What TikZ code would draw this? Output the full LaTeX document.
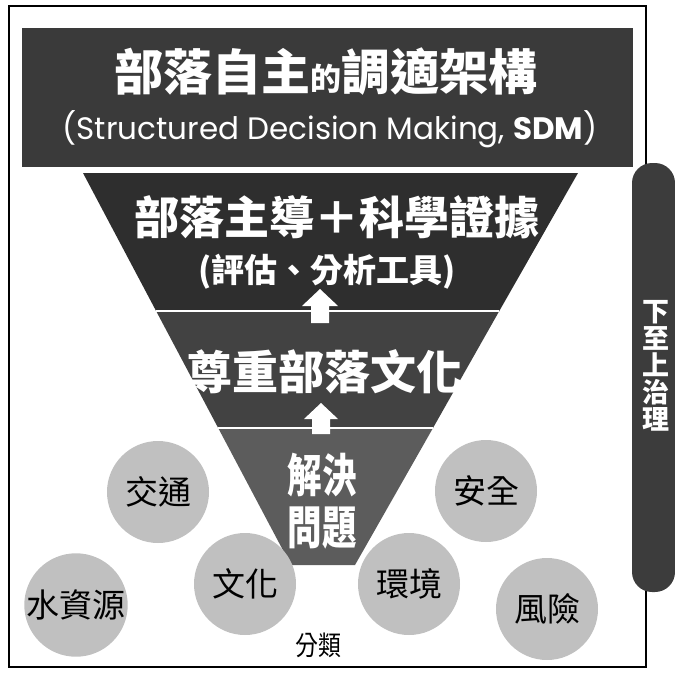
\documentclass[tikz,border=0pt]{standalone}
\usepackage{fontspec}
\usepackage{graphicx}
\newfontfamily\cjk{Noto Sans CJK TC}
\newfontfamily\poppins{Poppins}
\definecolor{bannergray}{HTML}{3A3A3A}
\definecolor{sectA}{HTML}{2E2E2E}
\definecolor{sectB}{HTML}{424242}
\definecolor{sectC}{HTML}{5C5C5C}
\definecolor{circgray}{HTML}{C0C0C0}
\definecolor{pillgray}{HTML}{3C3C3C}
\tikzset{
  wtxt/.style={text=white, inner sep=0pt},
  circ/.style={circle, fill=circgray, minimum size=102pt, inner sep=0pt, text=black,
    font=\cjk\fontsize{33}{33}\selectfont},
  uparrowfill/.style={fill=white},
  sepline/.style={white, line width=1.5pt},
  pill/.style={rectangle, rounded corners=20pt, fill=pillgray, minimum width=43pt,
    minimum height=429pt, inner sep=0pt},
  pilltxt/.style={text=white, align=center, inner sep=0pt,
    font=\cjk\bfseries\fontsize{27}{27}\selectfont}
}
\begin{document}
\begin{tikzpicture}[x=1pt,y=-1pt]
\useasboundingbox (0,0) rectangle (675,678);
% frame
\draw[line width=1.2pt] (9,6) rectangle (646,667);
% banner
\fill[bannergray] (22,28) rectangle (633,167);
\node[wtxt, font=\cjk\bfseries\fontsize{49}{49}\selectfont] (title) at (326,72)
  {部落自主{\fontsize{31}{31}\selectfont 的}調適架構};
\node[wtxt, font=\poppins\fontsize{31}{31}\selectfont] (sdm) at (330,129)
  {(Structured Decision Making, {\bfseries SDM})};
% funnel
\fill[sectA] (83,173) -- (578,173) -- (499.3,311) -- (156.1,311) -- cycle;
\fill[sectB] (156.1,311) -- (499.3,311) -- (433,428) -- (218.2,428) -- cycle;
\fill[sectC] (218.2,428) -- (433,428) -- (355,565) -- (290.8,565) -- cycle;
\draw[sepline] (156.1,311) -- (499.3,311);
\draw[sepline] (218.2,428) -- (433,428);
\node[wtxt, font=\cjk\bfseries\fontsize{45}{45}\selectfont] (s1) at (337,217) {部落主導＋科學證據};
\node[wtxt, font=\cjk\bfseries\fontsize{33}{33}\selectfont] (s1b) at (327,272) {(評估、分析工具)};
% block arrows
\coordinate (a1) at (320,306);
\fill[uparrowfill] (320,289) -- (338,306) -- (329,306) -- (329,323) -- (311,323) -- (311,306) -- (302,306) -- cycle;
\node[wtxt, font=\cjk\bfseries\fontsize{46}{46}\selectfont] (s2) at (324,372) {尊重部落文化};
\coordinate (a2) at (321,418);
\fill[uparrowfill] (321,403) -- (338,419) -- (330,419) -- (330,434) -- (312,434) -- (312,419) -- (304,419) -- cycle;
\node[wtxt, font=\cjk\bfseries\fontsize{46}{46}\selectfont] (s3a) at (322,475) {\scalebox{0.75}[1]{解決}};
\node[wtxt, font=\cjk\bfseries\fontsize{46}{46}\selectfont] (s3b) at (322,528) {\scalebox{0.75}[1]{問題}};
% circles
\node[circ] (jt) at (158,492) {交通};
\node[circ] (aq) at (486,491) {安全};
\node[circ] (szy) at (76,605) {水資源};
\node[circ] (wh) at (245,584) {文化};
\node[circ] (hj) at (409,584) {環境};
\node[circ] (fx) at (547,609) {風險};
\node[inner sep=0pt, font=\cjk\fontsize{27}{27}\selectfont] (fl) at (318,645) {\scalebox{0.85}[1]{分類}};
% side pill
\node[pill] (gov) at (653.5,377.5) {};
\node[pilltxt] (govt) at (656,366) {下\\至\\上\\治\\理};
\end{tikzpicture}
\end{document}
